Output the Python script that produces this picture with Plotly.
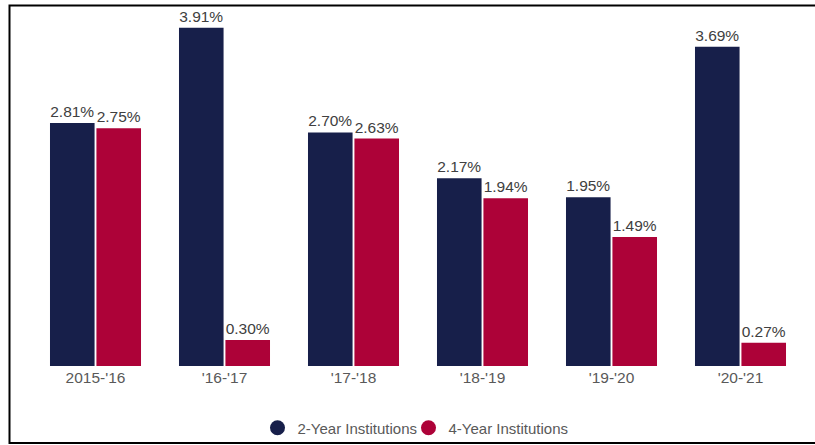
import plotly.graph_objects as go

categories = ["2015-'16", "'16-'17", "'17-'18", "'18-'19", "'19-'20", "'20-'21"]
two_year = [2.81, 3.91, 2.70, 2.17, 1.95, 3.69]
four_year = [2.75, 0.30, 2.63, 1.94, 1.49, 0.27]
series_names = ["2-Year Institutions", "4-Year Institutions"]

NAVY = "#171f4a"
RED = "#ad0238"
TEXT = "#404040"
FONT = "'Liberation Sans', Arial, sans-serif"

fig = go.Figure()
for name, vals, col in [(series_names[0], two_year, NAVY), (series_names[1], four_year, RED)]:
    fig.add_trace(go.Bar(
        x=categories, y=vals, name=name,
        marker=dict(color=col, line=dict(width=0)),
        text=[f"{v:.2f}%" for v in vals], textposition="outside",
        textfont=dict(size=15.5, color=TEXT, family=FONT),
        cliponaxis=False, showlegend=False, hoverinfo="skip",
    ))
    fig.add_trace(go.Scatter(
        x=[None], y=[None], mode="markers", name=name,
        marker=dict(color=col, size=15, symbol="circle"),
        showlegend=True, hoverinfo="skip",
    ))
# invisible spacer entry so the last legend label is not clipped
fig.add_trace(go.Scatter(
    x=[None], y=[None], mode="markers", name=" ",
    marker=dict(color="rgba(0,0,0,0)", size=1), showlegend=True, hoverinfo="skip",
))

L, R, T, B = 31, 10, 20, 79
W, H = 815, 445
pw, ph = W - L - R, H - T - B

def px(x):
    return (x - L) / pw

def py(y):
    return (H - B - y) / ph

fig.update_layout(
    width=W, height=H,
    margin=dict(l=L, r=R, t=T, b=B, autoexpand=False),
    paper_bgcolor="white", plot_bgcolor="white",
    barmode="group", bargap=0.28, bargroupgap=0.04,
    font=dict(family=FONT, color="#595959", size=15),
    xaxis=dict(showline=False, showgrid=False, ticks="", automargin=False,
               tickfont=dict(size=15.5, color="#595959")),
    yaxis=dict(visible=False, range=[0, 4.0], showgrid=False, zeroline=False, automargin=False),
    legend=dict(orientation="h", x=px(484), xanchor="center", y=py(428), yanchor="middle",
                font=dict(size=15, color="#595959"), itemsizing="trace",
                entrywidth=106, entrywidthmode="pixels",
                bgcolor="rgba(0,0,0,0)"),
    shapes=[dict(type="rect", xref="paper", yref="paper",
                 x0=px(9.5), x1=px(830), y0=py(443), y1=py(5.5),
                 line=dict(color="black", width=2), fillcolor="rgba(0,0,0,0)", layer="above")],
)

fig.write_html("out.html")
